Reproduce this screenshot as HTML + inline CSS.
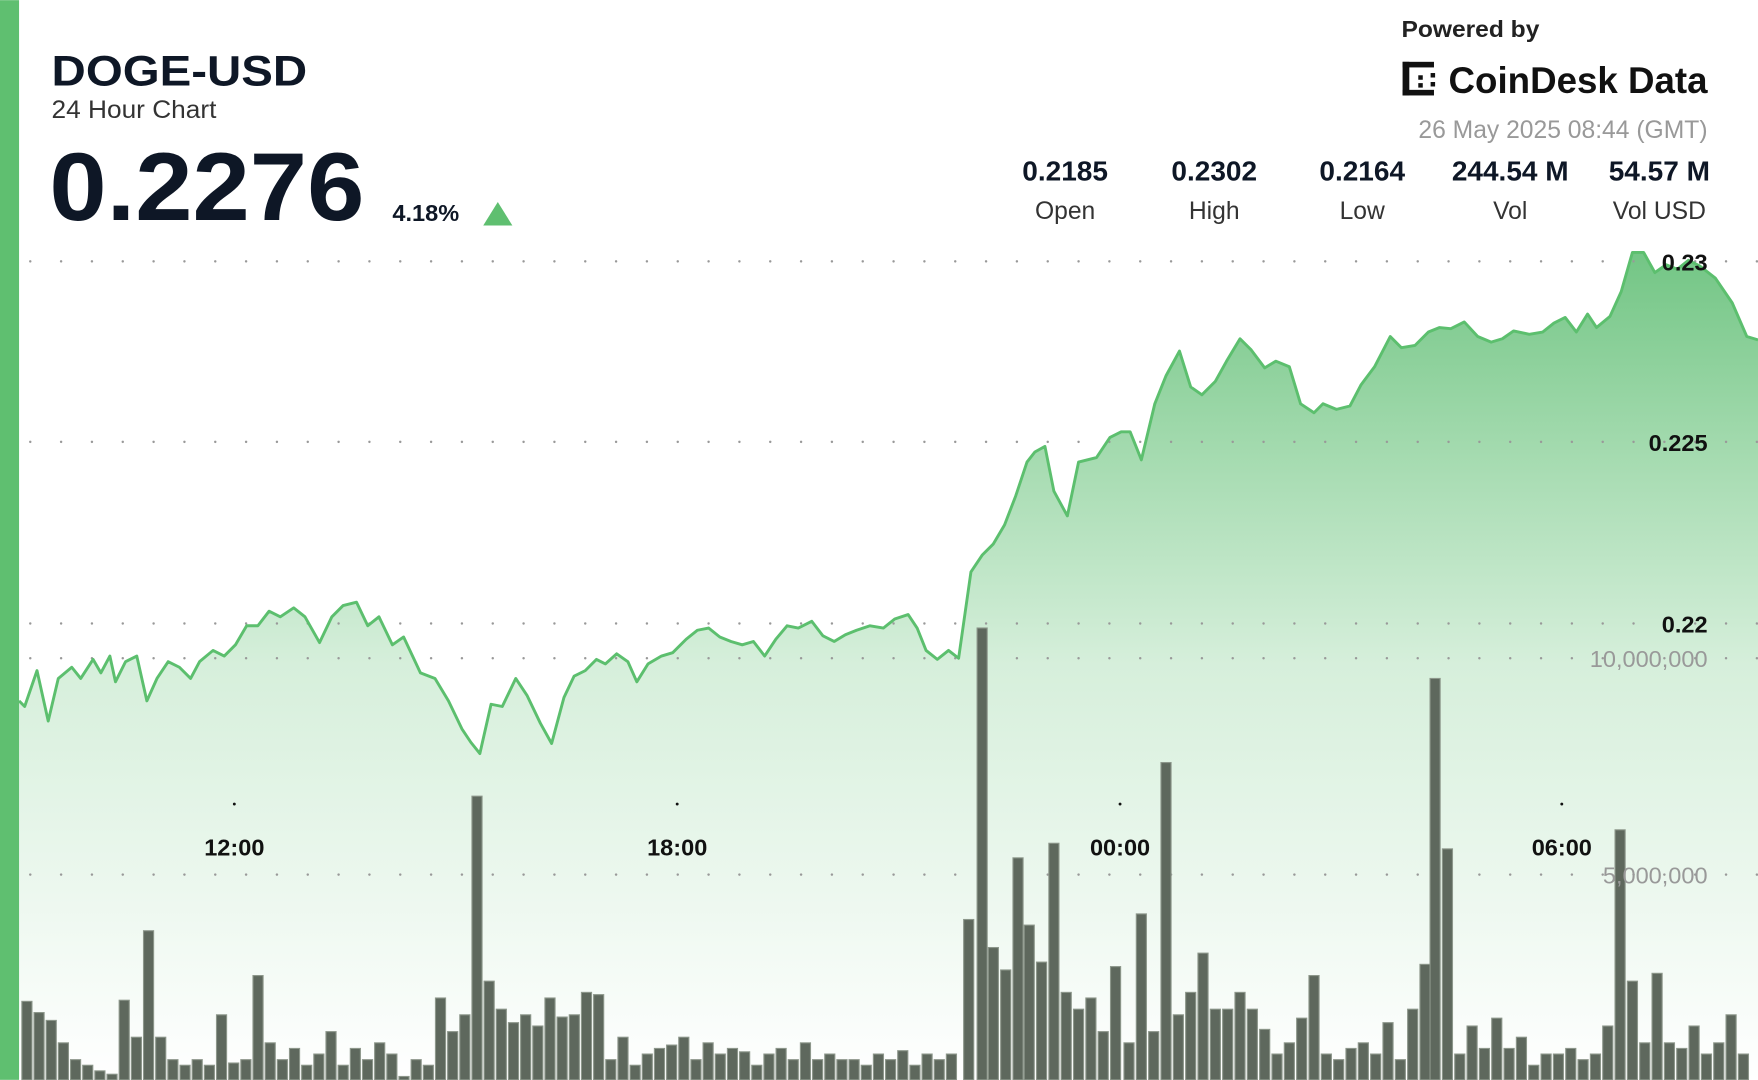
<!DOCTYPE html>
<html><head><meta charset="utf-8"><style>
html,body{margin:0;padding:0;background:#fff;width:1758px;height:1080px;overflow:hidden}
svg{display:block}
text{font-family:"Liberation Sans",sans-serif}
</style></head><body>
<svg id="s" width="1758" height="1080" viewBox="0 0 1568 963" xmlns="http://www.w3.org/2000/svg">
<defs>
<linearGradient id="g" x1="0" y1="222" x2="0" y2="963" gradientUnits="userSpaceOnUse">
<stop offset="0" stop-color="#72c584"/>
<stop offset="0.25" stop-color="#a5dbb0"/>
<stop offset="0.5" stop-color="#d6efdb"/>
<stop offset="1" stop-color="#ffffff"/>
</linearGradient>
</defs>
<rect x="0" y="0" width="1568" height="963" fill="#fff"/>
<path id="area" fill="url(#g)"/>
<g id="grid" fill="#999"></g>
<g id="bars"></g>
<path id="line" fill="none" stroke="#5cbf6e" stroke-width="2.6" stroke-linejoin="round"/>
<rect x="0" y="0" width="17" height="963" fill="#5fbf70"/>
<text x="46" y="76" font-size="38" font-weight="bold" fill="#0e1726" textLength="228" lengthAdjust="spacingAndGlyphs">DOGE-USD</text>
<text x="46" y="105" font-size="22" fill="#333" textLength="147" lengthAdjust="spacingAndGlyphs">24 Hour Chart</text>
<text x="44" y="196" font-size="86" font-weight="bold" fill="#0e1726" textLength="281" lengthAdjust="spacingAndGlyphs">0.2276</text>
<text x="350" y="197" font-size="21" font-weight="bold" fill="#0e1726">4.18%</text>
<polygon points="431,201 457,201 444,180" fill="#5fbf70"/>
<text x="1250" y="33" font-size="21" font-weight="bold" fill="#222" textLength="123" lengthAdjust="spacingAndGlyphs">Powered by</text>
<g fill="#111">
<rect x="1251" y="55" width="6" height="30"/><rect x="1251" y="55" width="28" height="5"/><rect x="1251" y="80" width="28" height="5"/>
<rect x="1265" y="67" width="4" height="4"/><rect x="1265" y="74" width="4" height="4"/><rect x="1276" y="65" width="4" height="4"/><rect x="1276" y="73" width="4" height="4"/>
</g>
<text x="1292" y="83" font-size="33" font-weight="bold" fill="#111" textLength="231" lengthAdjust="spacingAndGlyphs">CoinDesk Data</text>
<text x="1523" y="123" font-size="22" fill="#999" text-anchor="end">26 May 2025 08:44 (GMT)</text>
<g font-size="25" font-weight="bold" fill="#0e1726" text-anchor="middle">
<text x="950" y="161">0.2185</text><text x="1083" y="161">0.2302</text><text x="1215" y="161">0.2164</text><text x="1347" y="161">244.54 M</text><text x="1480" y="161">54.57 M</text>
</g>
<g font-size="22" fill="#333" text-anchor="middle">
<text x="950" y="195">Open</text><text x="1083" y="195">High</text><text x="1215" y="195">Low</text><text x="1347" y="195">Vol</text><text x="1480" y="195">Vol USD</text>
</g>
<g font-size="21" font-weight="bold" fill="#111" text-anchor="end">
<text x="1523" y="241">0.23</text><text x="1523" y="402">0.225</text><text x="1523" y="564">0.22</text>
</g>
<g font-size="21" fill="#999" text-anchor="end">
<text x="1523" y="595">10,000,000</text><text x="1523" y="788">5,000,000</text>
</g>
<g font-size="21" font-weight="bold" fill="#111" text-anchor="middle">
<text x="209" y="763">12:00</text><text x="604" y="763">18:00</text><text x="999" y="763">00:00</text><text x="1393" y="763">06:00</text>
</g>
<g fill="#111"><circle cx="209" cy="717" r="1.3"/><circle cx="604" cy="717" r="1.3"/><circle cx="999" cy="717" r="1.3"/><circle cx="1393" cy="717" r="1.3"/></g>
</svg>
<script>
var P=[[17,625],[22,630],[33,598],[43,643],[52,605],[64,595],[72,605],[83,588],[90,600],[98,585],[103,608],[112,590],[122,585],[131,625],[140,605],[150,590],[160,595],[170,605],[178,590],[190,580],[200,585],[210,575],[220,558],[230,558],[240,545],[250,550],[262,542],[272,550],[285,573],[296,550],[306,540],[318,537],[328,558],[338,550],[350,575],[360,568],[375,600],[388,605],[400,625],[412,650],[420,662],[428,672],[438,628],[448,630],[460,605],[470,620],[482,645],[492,663],[503,622],[512,603],[522,598],[532,588],[540,592],[550,583],[560,590],[568,608],[578,592],[590,585],[600,582],[612,570],[622,562],[632,560],[642,568],[652,572],[662,575],[672,572],[682,585],[692,570],[702,558],[712,560],[724,554],[734,567],[744,572],[754,566],[764,562],[776,558],[788,560],[798,552],[810,548],[818,560],[826,580],[836,588],[846,580],[855,587],[866,510],[876,495],[886,485],[896,468],[906,442],[916,412],[923,403],[932,398],[940,438],[952,460],[962,412],[970,410],[978,408],[990,390],[1000,385],[1008,385],[1018,410],[1030,360],[1040,335],[1052,313],[1062,345],[1072,352],[1084,340],[1094,322],[1106,302],[1116,312],[1128,328],[1138,322],[1150,327],[1160,360],[1172,368],[1180,360],[1192,365],[1204,362],[1214,343],[1226,327],[1240,300],[1250,310],[1262,308],[1274,296],[1284,292],[1294,293],[1306,287],[1318,300],[1330,305],[1340,302],[1350,295],[1364,298],[1376,296],[1386,288],[1396,283],[1406,296],[1416,280],[1424,292],[1436,282],[1446,260],[1456,225],[1466,225],[1476,243],[1486,236],[1496,240],[1506,232],[1516,237],[1530,248],[1545,270],[1558,300],[1568,303]];
var d=P.map(function(p,i){return (i?'L':'M')+p[0]+','+p[1]}).join('');
document.getElementById('line').setAttribute('d',d);
document.getElementById('area').setAttribute('d',d+'L1568,963L17,963Z');
var pre=[893,903,910,930,945,950,955,958,892,925,830,925,945,950,945,950,905,948,945,870,930,945,935,950,940,920,950,935,945,930,940,960,945,950,890,920,905,710,875,900,912,905,915,890,907,905,885,887,945,925,950,940,935,932,925,945,930,940,935,938,950,940,935,945,930,945,940,945,945,950,940,945,937,950,940,945,940];
var s='',sx=10.85;
pre.forEach(function(t,i){var x=24+i*sx;if(x>852)return;s+='<rect x="'+(x-4.5)+'" y="'+t+'" width="9" height="'+(963-t)+'" fill="#5e685d" stroke="#8c968a" stroke-width="1"/>';});
var post=[[864,820],[876,560],[886,845],[897,865],[908,765],[918,825],[929,858],[940,752],[951,885],[962,900],[973,890],[984,920],[995,862],[1007,930],[1018,815],[1029,920],[1040,680],[1051,905],[1062,885],[1073,850],[1084,900],[1095,900],[1106,885],[1117,900],[1128,918],[1139,940],[1150,930],[1161,908],[1172,870],[1183,940],[1194,945],[1205,935],[1216,930],[1227,940],[1238,912],[1249,945],[1260,900],[1271,860],[1280,605],[1291,757],[1302,940],[1313,915],[1324,935],[1335,908],[1346,935],[1357,925],[1368,950],[1379,940],[1390,940],[1401,935],[1412,945],[1423,940],[1434,915],[1445,740],[1456,875],[1467,930],[1478,868],[1489,930],[1500,935],[1511,915],[1522,940],[1533,930],[1544,905],[1555,940]];
post.forEach(function(p){s+='<rect x="'+(p[0]-4.5)+'" y="'+p[1]+'" width="9" height="'+(963-p[1])+'" fill="#5e685d" stroke="#8c968a" stroke-width="1"/>';});
document.getElementById('bars').innerHTML=s;
var g='';[233,394,556,587,780].forEach(function(y){for(var x=27;x<1568;x+=27.5)g+='<circle cx="'+x+'" cy="'+y+'" r="1.1"/>';});
document.getElementById('grid').innerHTML=g;
</script>
</body></html>
